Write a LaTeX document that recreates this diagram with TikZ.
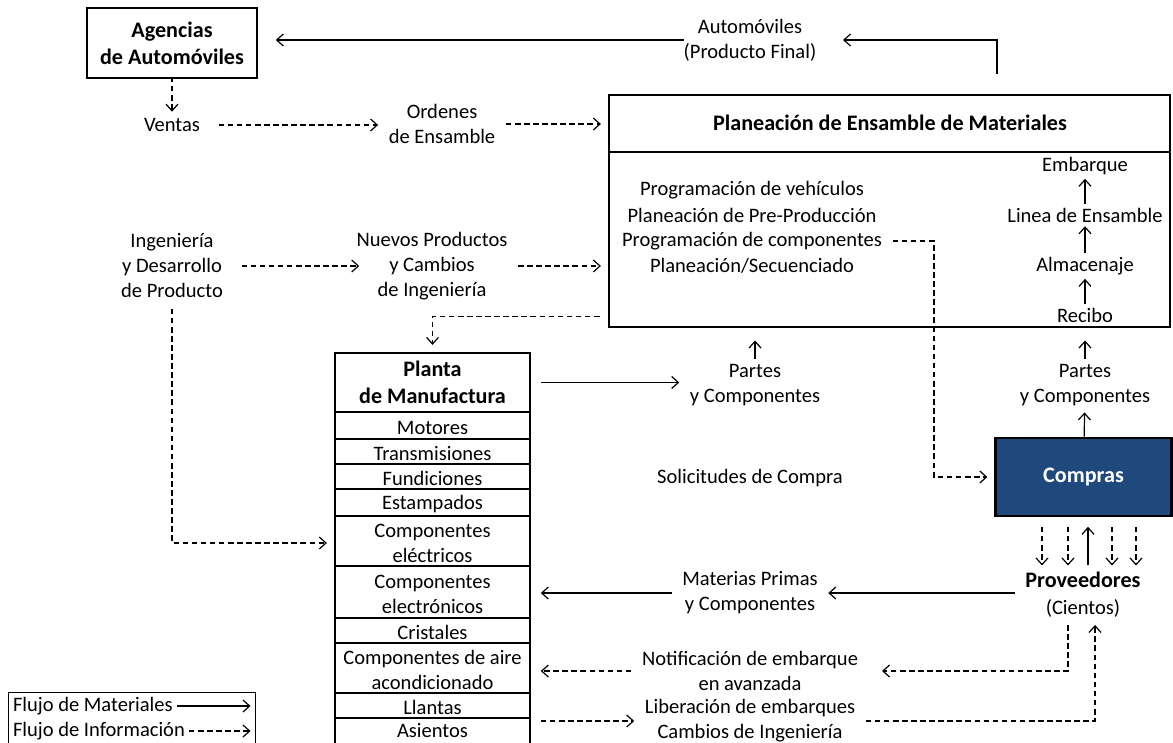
\documentclass[tikz,border=0pt]{standalone}
\usepackage{fontspec}
\setmainfont{Carlito}
\usetikzlibrary{arrows.meta}
\definecolor{comprasblue}{RGB}{31,73,125}
\tikzset{
  lbl/.style={align=center, inner sep=0pt, outer sep=8pt, font=\fontsize{15.4}{18.75}\selectfont},
  hdr/.style={lbl, font=\fontsize{16.6}{20}\selectfont\bfseries},
  mat/.style={-{Straight Barb[length=5pt,width=9pt]}, line width=0.9pt},
  inf/.style={mat, dash pattern=on 4.2pt off 2.6pt},
  frame/.style={draw, line width=2.2pt},
  row/.style={line width=0.9pt},
}
\begin{document}
\begin{tikzpicture}[x=0.75pt,y=-0.75pt]
\useasboundingbox (0,0) rectangle (1173,742);
\clip (0,0) rectangle (1173,742);

\node[hdr, frame, inner sep=0pt, outer sep=1.1pt, minimum width=127.5pt, minimum height=52.5pt] (agencias) at (172,43) {Agencias\\de Automóviles};
\node[lbl] (auto) at (750,40) {Automóviles\\(Producto Final)};
\node[lbl] (ventas) at (172,125) {Ventas};
\node[lbl] (ordenes) at (442,124) {Ordenes\\de Ensamble};

\node[frame, outer sep=1.1pt, minimum width=420.75pt, minimum height=174pt] (pem) at (889.5,211) {};
\draw[line width=2.2pt] (pem.west |- 0,152) -- (pem.east |- 0,152);
\node[hdr] (pemtitle) at (890,123) {Planeación de Ensamble de Materiales};
\node[lbl] (progveh) at (752,190) {Programación de vehículos};
\node[lbl] (preprod) at (752,215) {Planeación de Pre-Producción};
\node[lbl] (progcomp) at (752,241) {Programación de componentes};
\node[lbl] (secuen) at (752,266) {Planeación/Secuenciado};
\node[lbl] (embarque) at (1085,166) {Embarque};
\node[lbl] (linea) at (1085,215) {Linea de Ensamble};
\node[lbl] (almacen) at (1085,266) {Almacenaje};
\node[lbl] (recibo) at (1085,315) {Recibo};

\node[lbl] (ingdes) at (172,266) {Ingeniería\\y Desarrollo\\de Producto};
\node[lbl] (nuevos) at (432,266) {Nuevos Productos\\y Cambios\\de Ingeniería};

\node[hdr, inner sep=0pt, outer sep=1.1pt, minimum width=146.25pt, minimum height=44.25pt] (planta) at (432.5,382.5) {Planta\\de Manufactura};
\foreach \top/\bot/\txt [count=\i] in {412/439/Motores, 439/464/Transmisiones, 464/489/Fundiciones, 489/516/Estampados, 516/566/{Componentes\\eléctricos}, 566/618/{Componentes\\electrónicos}, 618/643/Cristales, 643/693/{Componentes de aire\\acondicionado}, 693/718/Llantas, 718/740/Asientos}{
  \draw[row] (335,\top) -- (530,\top);
  \node[lbl] (row\i) at (432.5,{(\top+\bot)/2+2}) {\txt};
}
\draw[line width=2.2pt] (335,353) rectangle (530,760);
\draw[line width=2.2pt] (335,412) -- (530,412);

\node[lbl] (partesmid) at (755,385) {Partes\\y Componentes};
\node[lbl] (partesder) at (1085,385) {Partes\\y Componentes};
\node[lbl] (solicitud) at (750,478) {Solicitudes de Compra};
\node[frame, fill=comprasblue, text=white, font=\fontsize{16.6}{20}\selectfont\bfseries, outer sep=1.1pt, minimum width=132pt, minimum height=58.5pt] (compras) at (1083.5,477) {Compras};
\node[hdr] (prov) at (1083,580) {Proveedores};
\node[lbl, outer sep=6pt] (cientos) at (1083,608) {(Cientos)};
\node[lbl] (materias) at (750,593) {Materias Primas\\y Componentes};
\node[lbl] (notif) at (750,671) {Notificación de embarque\\en avanzada};
\node[lbl] (liber) at (750,721) {Liberación de embarques\\Cambios de Ingeniería};

\draw[mat, shorten >=12pt] (997,74) |- (auto);
\draw[mat, shorten <=-8pt, shorten >=13pt] (auto) -- (auto -| agencias.east);
\draw[inf, shorten <=-2pt, shorten >=-3pt] (agencias) -- (ventas);
\draw[inf, shorten <=6pt] (ventas.east) -- (ventas.east -| ordenes.west);
\draw[inf, shorten >=5pt] (ordenes) -- (ordenes -| pem.west);
\draw[inf, shorten <=6pt, shorten >=-10pt] (ingdes) -- (nuevos);
\draw[inf, shorten >=5pt] (nuevos) -- (nuevos -| pem.west);
\draw[inf, shorten >=5pt] ([xshift=-6pt,yshift=9pt]pem.south west) -| (planta.north);
\draw[inf, shorten >=5pt] (ingdes) |- (planta.west |- row5);
\draw[inf, shorten >=5pt] (progcomp.east) -| ([xshift=-45pt]compras.west) -- (compras.west);
\foreach \a/\b in {linea/embarque, almacen/linea, recibo/almacen}
  \draw[mat, shorten <=-5pt, shorten >=-5pt] (\a) -- (\b);

\draw[mat, shorten <=7pt] (planta) -- (planta -| partesmid.west);
\draw[mat, shorten <=-4pt, shorten >=9pt] (partesmid) -- (partesmid |- pem.south);
\draw[mat, shorten <=-4pt, shorten >=9pt] (partesder) -- (partesder |- pem.south);
\draw[mat, shorten >=-3pt] (compras) -- (partesder);

\foreach \xx in {1042,1068,1112,1136}
  \draw[inf, shorten <=7pt, shorten >=-3pt] (compras.south -| \xx,0) -- (prov.north -| \xx,0);
\draw[mat, shorten <=-3pt, shorten >=7pt] (prov.north -| 1088,0) -- (compras.south -| 1088,0);

\draw[mat] (prov.west |- materias) -- (materias);
\draw[mat, shorten >=7pt] (materias) -- (materias -| planta.east);
\draw[inf, shorten >=10pt] (cientos.south -| 1068,0) |- (notif);
\draw[inf, shorten >=7pt] (notif) -- (notif -| planta.east);
\draw[inf, shorten <=7pt] (liber -| planta.east) -- (liber);
\draw[inf] (liber) -| (cientos.south -| 1095,0);

\node[draw, line width=0.9pt, minimum width=185pt, minimum height=60pt, anchor=north west] (legend) at (8,692) {};
\node[lbl, outer sep=3pt, anchor=west] (flujomat) at (9,706) {Flujo de Materiales};
\node[lbl, outer sep=3pt, anchor=west] (flujoinf) at (9,731) {Flujo de Información};
\draw[mat, shorten >=4pt] (flujomat.east) -- (flujomat.east -| legend.east);
\draw[inf, shorten >=4pt] (flujoinf.east) -- (flujoinf.east -| legend.east);
\end{tikzpicture}
\end{document}
